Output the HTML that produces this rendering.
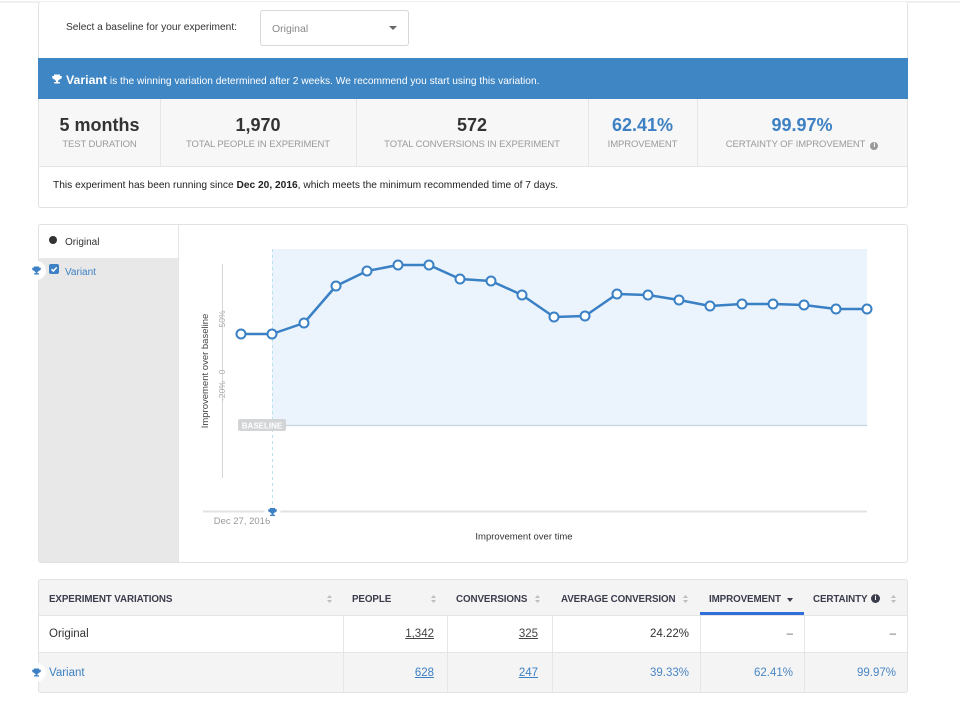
<!DOCTYPE html>
<html><head><meta charset="utf-8">
<style>
*{box-sizing:border-box;margin:0;padding:0}
body{width:960px;height:702px;background:#fff;font-family:"Liberation Sans",Arial,sans-serif;position:relative;overflow:hidden;color:#333}
.abs{position:absolute}
.card{position:absolute;border:1px solid #e2e2e2;border-radius:3px;background:#fff}
.stat{position:absolute;top:99px;height:68px;text-align:center}
.stat .v{position:absolute;left:0;right:0;top:16px;font-size:18px;font-weight:bold;color:#333}
.stat .l{position:absolute;left:0;right:0;top:40px;font-size:9.5px;color:#9a9a9a;letter-spacing:-0.1px}
.blue{color:#3d80c3!important}
.th{position:absolute;top:582px;height:35px;line-height:36px;font-size:9.8px;font-weight:bold;color:#3b3d4c;letter-spacing:-0.1px}
.cell{position:absolute;font-size:11.5px;text-align:right}
.u{text-decoration:underline}
.vd{position:absolute;width:1px;background:#e6e6e6}
</style></head><body>
<div class="abs" style="left:0;top:1px;width:960px;height:2px;background:#f0f0f0"></div>

<!-- top card -->
<div class="card" style="left:38px;top:2px;width:870px;height:206px;border-top:none"></div>
<div class="abs" style="left:66px;top:22px;font-size:10.2px;color:#333">Select a baseline for your experiment:</div>
<div class="abs" style="left:260px;top:10px;width:149px;height:36px;border:1px solid #d8d8d8;border-radius:3px;background:#fff"></div>
<div class="abs" style="left:272px;top:23px;font-size:10.5px;color:#888">Original</div>
<div class="abs" style="left:389px;top:26px;width:0;height:0;border-left:4px solid transparent;border-right:4px solid transparent;border-top:4px solid #666"></div>

<div class="abs" style="left:38px;top:58px;width:870px;height:41px;background:#3f86c4"></div>
<svg class="abs" style="left:52px;top:74px" width="10" height="10" viewBox="0 0 10 10"><path d="M2 0.5h6v1.5h1.8v1.2c0 1.2-1 2-2.2 2.1-0.4 0.8-1 1.3-1.6 1.4v1.3h1.8v1.5h-5.6v-1.5h1.8v-1.3c-0.6-0.1-1.2-0.6-1.6-1.4-1.2-0.1-2.2-0.9-2.2-2.1v-1.2h1.8z" fill="#fff"/></svg>
<div class="abs" style="left:66px;top:73px;font-size:10.2px;color:#fff;white-space:nowrap"><b style="font-size:12.3px">Variant</b> is the winning variation determined after 2 weeks. We recommend you start using this variation.</div>

<div class="abs" style="left:39px;top:99px;width:868px;height:68px;background:#f7f7f7;border-bottom:1px solid #e4e4e4"></div>
<div class="vd" style="left:160px;top:99px;height:68px"></div>
<div class="vd" style="left:356px;top:99px;height:68px"></div>
<div class="vd" style="left:588px;top:99px;height:68px"></div>
<div class="vd" style="left:697px;top:99px;height:68px"></div>
<div class="stat" style="left:39px;width:121px"><div class="v">5 months</div><div class="l">TEST DURATION</div></div>
<div class="stat" style="left:160px;width:196px"><div class="v">1,970</div><div class="l">TOTAL PEOPLE IN EXPERIMENT</div></div>
<div class="stat" style="left:356px;width:232px"><div class="v">572</div><div class="l">TOTAL CONVERSIONS IN EXPERIMENT</div></div>
<div class="stat" style="left:588px;width:109px"><div class="v blue">62.41%</div><div class="l">IMPROVEMENT</div></div>
<div class="stat" style="left:697px;width:210px"><div class="v blue">99.97%</div><div class="l">CERTAINTY OF IMPROVEMENT &nbsp;<span style="display:inline-block;width:8px;height:8px;border-radius:50%;background:#999;color:#fff;font-size:7px;line-height:8px;font-weight:bold;vertical-align:0px">i</span></div></div>
<div class="abs" style="left:53px;top:180px;font-size:10.2px;color:#222;white-space:nowrap">This experiment has been running since <b>Dec 20, 2016</b>, which meets the minimum recommended time of 7 days.</div>

<!-- chart card -->
<div class="card" style="left:38px;top:224px;width:870px;height:339px"></div>
<div class="abs" style="left:39px;top:258px;width:139px;height:304px;background:#e8e8e8"></div>
<div class="abs" style="left:178px;top:225px;width:1px;height:337px;background:#e4e4e4"></div>
<div class="abs" style="left:49px;top:236px;width:8px;height:8px;border-radius:50%;background:#333"></div>
<div class="abs" style="left:65px;top:237px;font-size:10px;color:#333">Original</div>
<div class="abs" style="left:27px;top:261px;width:19px;height:19px;border-radius:50%;background:#fff"></div>
<svg class="abs" style="left:32px;top:266px" width="9" height="9" viewBox="0 0 10 10"><path d="M2 0.5h6v1.5h1.8v1.2c0 1.2-1 2-2.2 2.1-0.4 0.8-1 1.3-1.6 1.4v1.3h1.8v1.5h-5.6v-1.5h1.8v-1.3c-0.6-0.1-1.2-0.6-1.6-1.4-1.2-0.1-2.2-0.9-2.2-2.1v-1.2h1.8z" fill="#3d80c3"/></svg>
<div class="abs" style="left:49px;top:264px;width:10px;height:10px;border-radius:2px;background:#3d80c3"></div>
<svg class="abs" style="left:49px;top:264px" width="10" height="10"><path d="M2.5 5.2l1.8 1.8 3.4-3.6" stroke="#fff" stroke-width="1.5" fill="none"/></svg>
<div class="abs" style="left:65px;top:267px;font-size:10px;color:#3d80c3">Variant</div>

<svg class="abs" style="left:0;top:0" width="960" height="702">
  <rect x="272" y="249" width="595" height="176" fill="#ebf4fd"/>
  <line x1="272" y1="425.5" x2="867" y2="425.5" stroke="#c9d3dc" stroke-width="1.2"/>
  <line x1="272.5" y1="249" x2="272.5" y2="510" stroke="#b9e2ee" stroke-width="1" stroke-dasharray="3,3"/>
  <line x1="222.5" y1="264" x2="222.5" y2="478" stroke="#d6d6d6" stroke-width="1"/>
  <line x1="203" y1="511.5" x2="867" y2="511.5" stroke="#e3e3e3" stroke-width="2"/>
  <rect x="238" y="419" width="48" height="12" rx="2" fill="#d2d4d6"/>
  <text x="262" y="428.3" text-anchor="middle" font-size="8" font-weight="bold" fill="#fff" font-family="Liberation Sans, sans-serif">BASELINE</text>
  <g font-family="Liberation Sans, sans-serif" font-size="8.5" fill="#aaa" text-anchor="middle">
    <text transform="translate(225,319) rotate(-90)">50%</text>
    <text transform="translate(225,372) rotate(-90)">0</text>
    <text transform="translate(225,391) rotate(-90)">-20%</text>
  </g>
  <text transform="translate(208,371) rotate(-90)" text-anchor="middle" font-size="9.5" fill="#444" font-family="Liberation Sans, sans-serif">Improvement over baseline</text>
  <text x="242" y="524" text-anchor="middle" font-size="9.5" fill="#999" font-family="Liberation Sans, sans-serif">Dec 27, 2016</text>
  <text x="524" y="539.5" text-anchor="middle" font-size="9.5" fill="#333" font-family="Liberation Sans, sans-serif">Improvement over time</text>
  <circle cx="272.5" cy="512" r="8" fill="#fff"/>
  <path transform="translate(268,507.5) scale(0.9)" d="M2 0.5h6v1.5h1.8v1.2c0 1.2-1 2-2.2 2.1-0.4 0.8-1 1.3-1.6 1.4v1.3h1.8v1.5h-5.6v-1.5h1.8v-1.3c-0.6-0.1-1.2-0.6-1.6-1.4-1.2-0.1-2.2-0.9-2.2-2.1v-1.2h1.8z" fill="#3d80c3"/>
  <polyline fill="none" stroke="#3a80c4" stroke-width="2.5" stroke-linejoin="round" points="241,334 272,334 304,323 336,286 367,271 398,265 429,265 460,279 491,281 522,295 554,317 585,316 617,294 648,295 679,300 710,306 742,304 773,304 804,305 836,309 867,309"/>
  <g fill="#fff" stroke="#3a80c4" stroke-width="2">
    <circle cx="241" cy="334" r="4.5"/><circle cx="272" cy="334" r="4.5"/><circle cx="304" cy="323" r="4.5"/><circle cx="336" cy="286" r="4.5"/><circle cx="367" cy="271" r="4.5"/><circle cx="398" cy="265" r="4.5"/><circle cx="429" cy="265" r="4.5"/><circle cx="460" cy="279" r="4.5"/><circle cx="491" cy="281" r="4.5"/><circle cx="522" cy="295" r="4.5"/><circle cx="554" cy="317" r="4.5"/><circle cx="585" cy="316" r="4.5"/><circle cx="617" cy="294" r="4.5"/><circle cx="648" cy="295" r="4.5"/><circle cx="679" cy="300" r="4.5"/><circle cx="710" cy="306" r="4.5"/><circle cx="742" cy="304" r="4.5"/><circle cx="773" cy="304" r="4.5"/><circle cx="804" cy="305" r="4.5"/><circle cx="836" cy="309" r="4.5"/><circle cx="867" cy="309" r="4.5"/>
  </g>
</svg>

<!-- table -->
<div class="card" style="left:38px;top:579px;width:870px;height:114px;background:#f4f4f4"></div>
<div class="abs" style="left:39px;top:615px;width:868px;height:38px;background:#fff;border-top:1px solid #e4e4e4;border-bottom:1px solid #e4e4e4"></div>
<div class="vd" style="left:343px;top:615px;height:77px"></div>
<div class="vd" style="left:447px;top:615px;height:77px"></div>
<div class="vd" style="left:552px;top:615px;height:77px"></div>
<div class="vd" style="left:700px;top:615px;height:77px"></div>
<div class="vd" style="left:804px;top:615px;height:77px"></div>
<div class="abs" style="left:700px;top:612px;width:104px;height:3px;background:#2f6fdc"></div>

<div class="th" style="left:49px">EXPERIMENT VARIATIONS</div>
<div class="th" style="left:352px">PEOPLE</div>
<div class="th" style="left:456px">CONVERSIONS</div>
<div class="th" style="left:561px">AVERAGE CONVERSION</div>
<div class="th" style="left:709px">IMPROVEMENT</div>
<div class="th" style="left:813px">CERTAINTY</div>
<div class="abs" style="left:871px;top:594px;width:9px;height:9px;border-radius:50%;background:#3b3d4c;color:#fff;font-size:7px;line-height:9px;text-align:center;font-weight:bold">i</div>
<div class="abs" style="left:787px;top:598px;width:0;height:0;border-left:3px solid transparent;border-right:3px solid transparent;border-top:4px solid #3b3d4c"></div>
<svg class="abs" style="left:0;top:0" width="960" height="702">
  <g fill="#bdbdbd">
    <path d="M327 598l2.5-3 2.5 3zM327 600l2.5 3 2.5-3z"/>
    <path d="M431 598l2.5-3 2.5 3zM431 600l2.5 3 2.5-3z"/>
    <path d="M535 598l2.5-3 2.5 3zM535 600l2.5 3 2.5-3z"/>
    <path d="M683 598l2.5-3 2.5 3zM683 600l2.5 3 2.5-3z"/>
    <path d="M891 598l2.5-3 2.5 3zM891 600l2.5 3 2.5-3z"/>
  </g>
</svg>

<div class="abs" style="left:49px;top:628px;font-size:11.5px;color:#333">Original</div>
<div class="cell u" style="right:526px;top:628px;color:#444">1,342</div>
<div class="cell u" style="right:422px;top:628px;color:#444">325</div>
<div class="cell" style="right:271px;top:628px;color:#333">24.22%</div>
<div class="cell" style="right:167px;top:628px;color:#666">–</div>
<div class="cell" style="right:64px;top:628px;color:#666">–</div>

<div class="abs" style="left:27px;top:663px;width:19px;height:19px;border-radius:50%;background:#fff"></div>
<svg class="abs" style="left:32px;top:668px" width="9" height="9" viewBox="0 0 10 10"><path d="M2 0.5h6v1.5h1.8v1.2c0 1.2-1 2-2.2 2.1-0.4 0.8-1 1.3-1.6 1.4v1.3h1.8v1.5h-5.6v-1.5h1.8v-1.3c-0.6-0.1-1.2-0.6-1.6-1.4-1.2-0.1-2.2-0.9-2.2-2.1v-1.2h1.8z" fill="#3d80c3"/></svg>
<div class="abs" style="left:49px;top:667px;font-size:11.5px;color:#3d80c3">Variant</div>
<div class="cell u" style="right:526px;top:667px;color:#3d80c3">628</div>
<div class="cell u" style="right:422px;top:667px;color:#3d80c3">247</div>
<div class="cell" style="right:271px;top:667px;color:#4a86c5">39.33%</div>
<div class="cell" style="right:167px;top:667px;color:#4a86c5">62.41%</div>
<div class="cell" style="right:64px;top:667px;color:#4a86c5">99.97%</div>
</body></html>
